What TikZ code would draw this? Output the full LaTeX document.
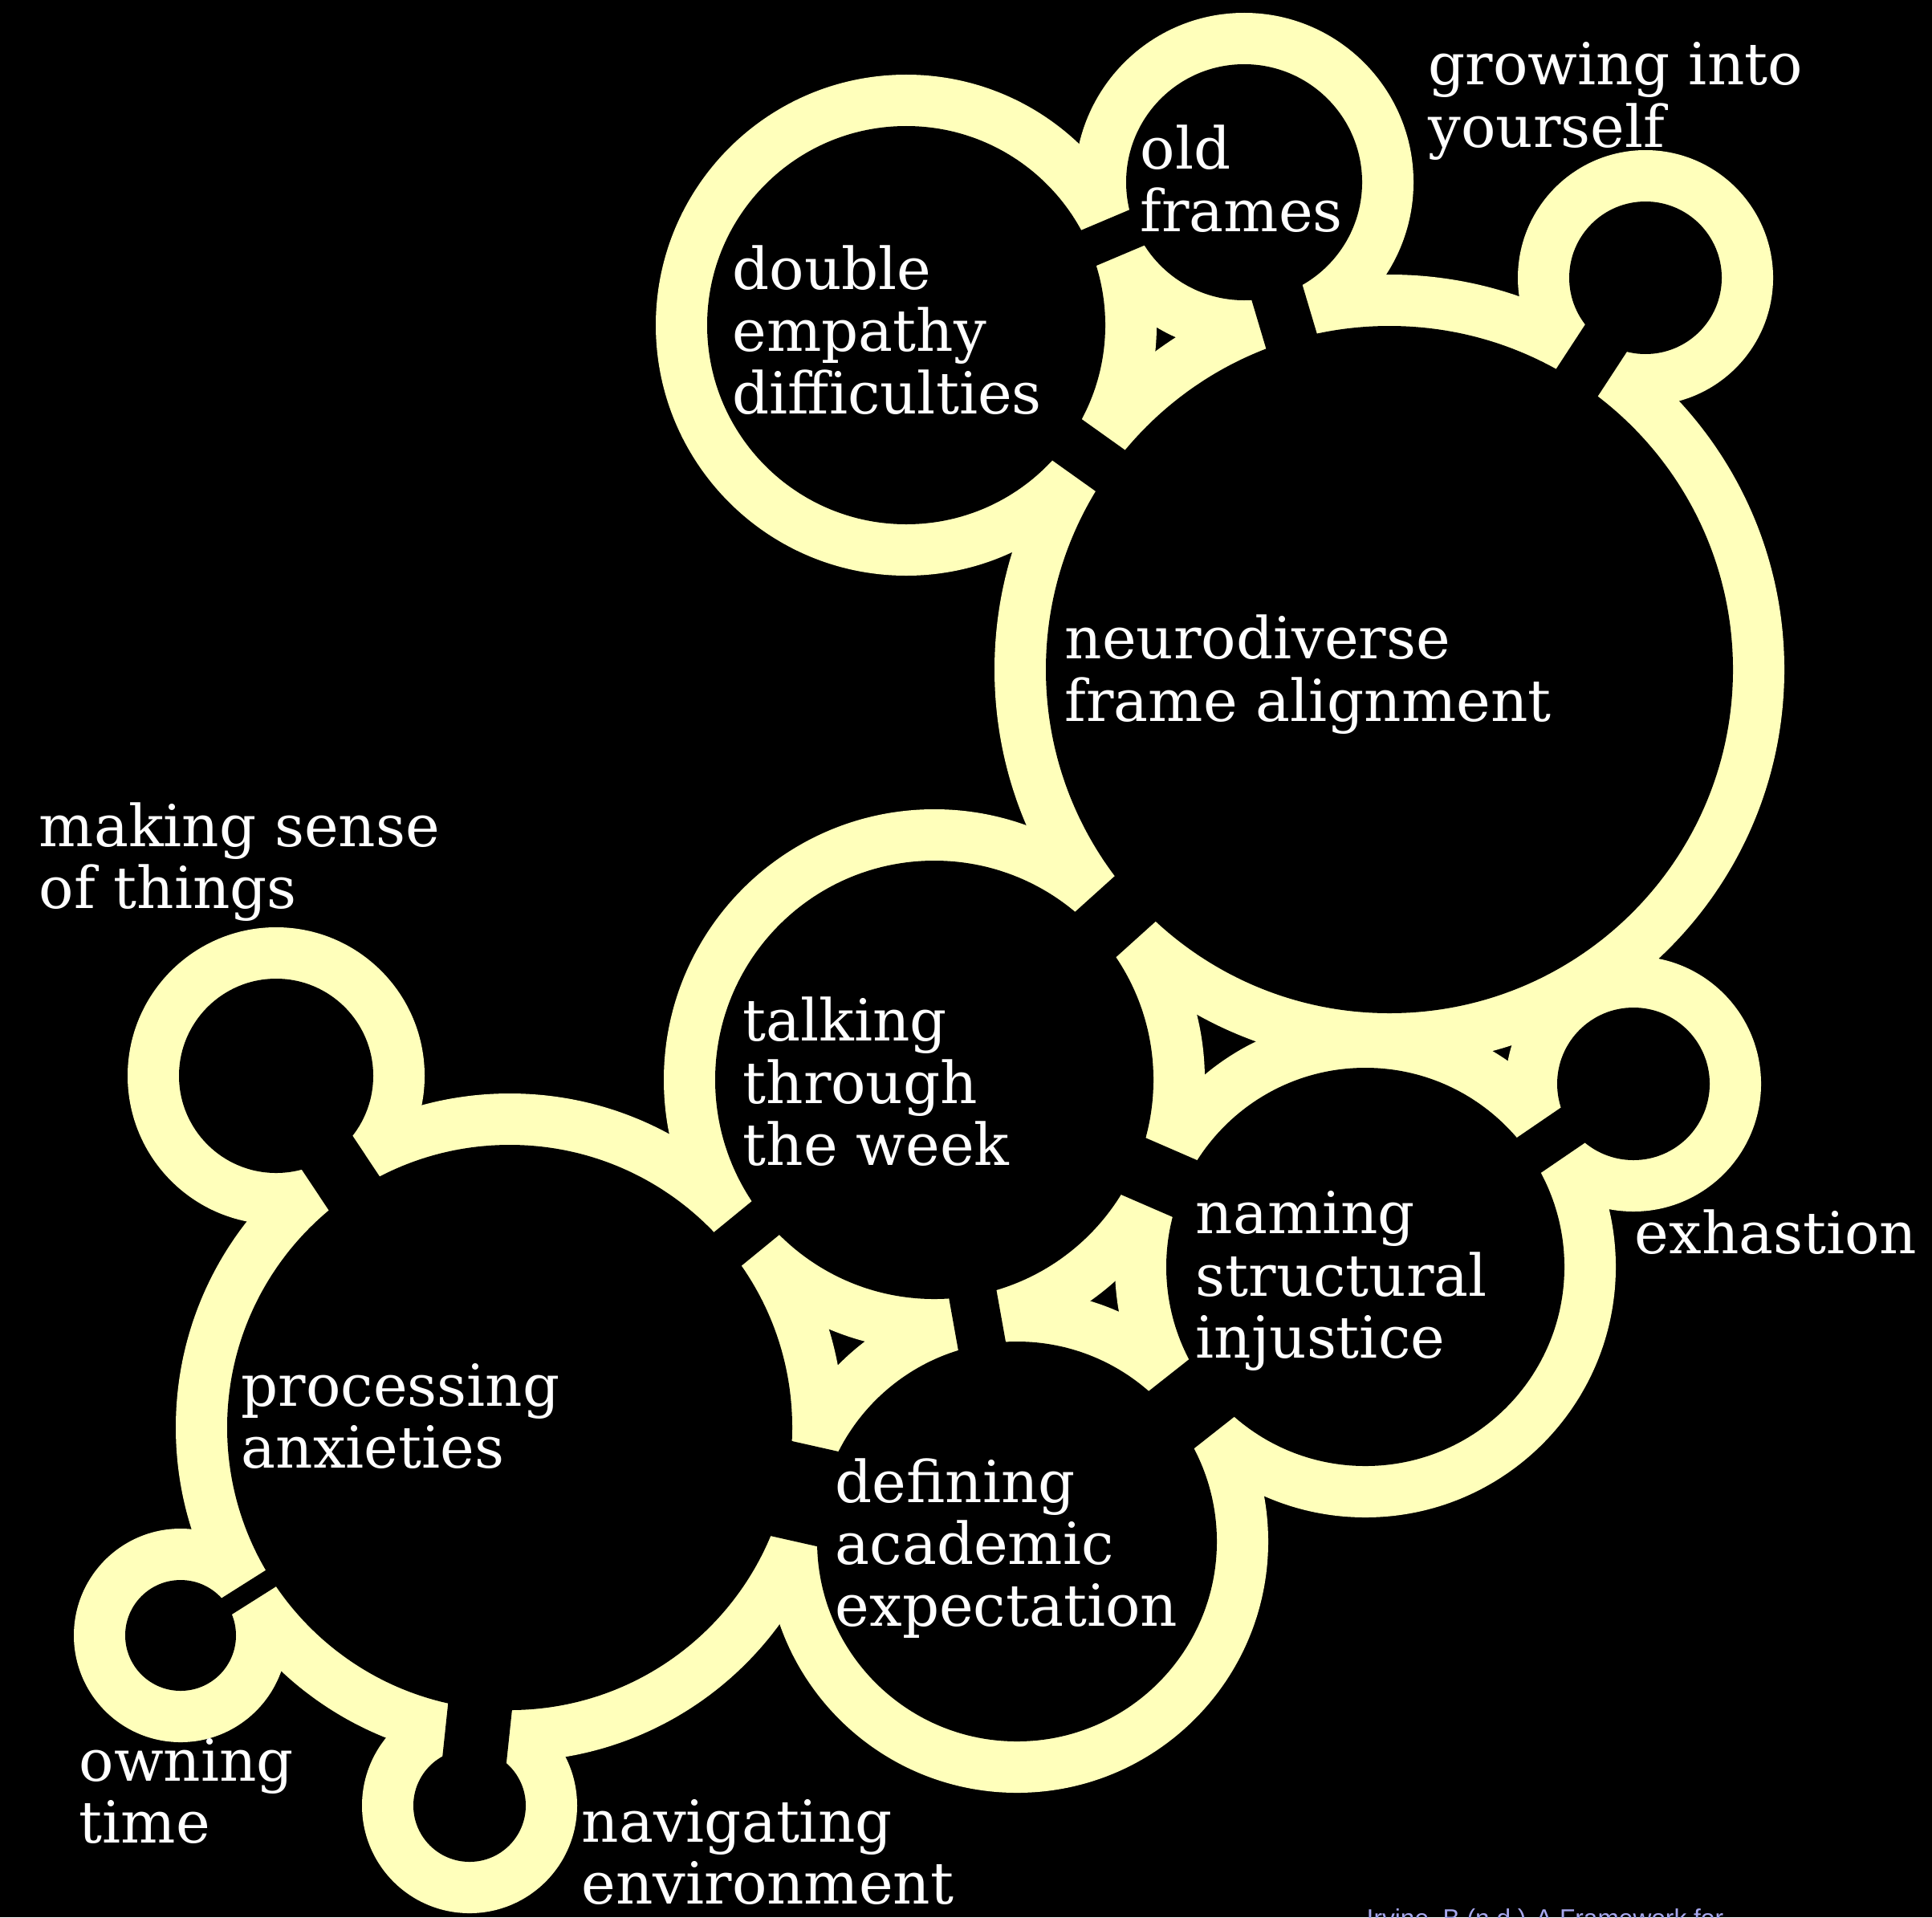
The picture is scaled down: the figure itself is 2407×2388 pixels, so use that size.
\documentclass[tikz,border=0pt]{standalone}
\usepackage{xcolor}
\usepackage{fontspec}
\setmainfont{DejaVu Serif}
\newfontfamily\citefont{Liberation Sans}
\usepackage{tikz}
\definecolor{rimyellow}{HTML}{FFFFBB}
\definecolor{citeblue}{RGB}{168,168,238}
\tikzstyle{rim} = [fill=rimyellow]
\tikzstyle{hole} = [fill=black]
\tikzstyle{link} = [draw=black]
\tikzstyle{tag} = [text=white,
    align=left,
    inner sep=0pt,
    anchor=base west,
    font=\fontsize{20.5}{21.9}\selectfont]

\begin{document}
\begin{tikzpicture}[x=0.01cm, y=-0.01cm]
        \useasboundingbox (0,0) rectangle (2407,2388);
        \clip (0,0) rectangle (2407,2388);
        \fill [black] (0,0) rectangle (2407,2388);

        % centres of the bubbles
        \coordinate (double_empathy) at (1129,405);
        \coordinate (old_frames) at (1550,227);
        \coordinate (growing) at (2050,346);
        \coordinate (neurodiverse) at (1731,834);
        \coordinate (talking) at (1164,1345);
        \coordinate (naming) at (1701,1578);
        \coordinate (exhastion) at (2035,1350);
        \coordinate (defining) at (1267,1920);
        \coordinate (processing) at (635,1778);
        \coordinate (making_sense) at (344,1340);
        \coordinate (owning_time) at (225,2037);
        \coordinate (navigating) at (585,2249);

        % yellow rims (inner radius + 64)
        \fill [rim] (double_empathy) circle (312);
        \fill [rim] (old_frames) circle (211);
        \fill [rim] (growing) circle (159);
        \fill [rim] (neurodiverse) circle (492);
        \fill [rim] (talking) circle (337);
        \fill [rim] (naming) circle (312);
        \fill [rim] (exhastion) circle (159);
        \fill [rim] (defining) circle (313);
        \fill [rim] (processing) circle (416);
        \fill [rim] (making_sense) circle (185);
        \fill [rim] (owning_time) circle (133);
        \fill [rim] (navigating) circle (134);

        % links cut through the rims
        \draw [link, line width=4.8mm] (double_empathy) -- (old_frames);
        \draw [link, line width=6.6mm] (old_frames) -- (neurodiverse);
        \draw [link, line width=6.3mm] (double_empathy) -- (neurodiverse);
        \draw [link, line width=6.2mm] (growing) -- (neurodiverse);
        \draw [link, line width=7.6mm] (neurodiverse) -- (talking);
        \draw [link, line width=7.7mm] (talking) -- (naming);
        \draw [link, line width=5.3mm] (naming) -- (exhastion);
        \draw [link, line width=9.1mm] (naming) -- (defining);
        \draw [link, line width=6.0mm] (talking) -- (defining);
        \draw [link, line width=5.4mm] (talking) -- (processing);
        \draw [link, line width=12.1mm] (processing) -- (defining);
        \draw [link, line width=7.6mm] (making_sense) -- (processing);
        \draw [link, line width=2.4mm] (owning_time) -- (processing);
        \draw [link, line width=8.0mm] (navigating) -- (processing);

        % black holes
        \fill [hole] (double_empathy) circle (248);
        \fill [hole] (old_frames) circle (147);
        \fill [hole] (growing) circle (95);
        \fill [hole] (neurodiverse) circle (428);
        \fill [hole] (talking) circle (273);
        \fill [hole] (naming) circle (248);
        \fill [hole] (exhastion) circle (95);
        \fill [hole] (defining) circle (249);
        \fill [hole] (processing) circle (352);
        \fill [hole] (making_sense) circle (121);
        \fill [hole] (owning_time) circle (69);
        \fill [hole] (navigating) circle (70);

        % labels (anchored at the baseline of their last line)
        \node (double_empathy_text) [tag] at (912,515) {double\\empathy\\difficulties};
        \node (old_frames_text) [tag] at (1420,288) {old\\frames};
        \node (growing_text) [tag] at (1779,183) {growing into\\yourself};
        \node (neurodiverse_text) [tag] at (1326,898) {neurodiverse\\frame alignment};
        \node (talking_text) [tag] at (925,1451) {talking\\through\\the week};
        \node (naming_text) [tag] at (1489,1691) {naming\\structural\\injustice};
        \node (exhastion_text) [tag] at (2036,1561) {exhastion};
        \node (defining_text) [tag] at (1040,2025) {defining\\academic\\expectation};
        \node (processing_text) [tag] at (300,1828) {processing\\anxieties};
        \node (making_sense_text) [tag] at (48,1131) {making sense\\of things};
        \node (owning_time_text) [tag] at (98,2295) {owning\\time};
        \node (navigating_text) [tag] at (724,2371) {navigating\\environment};

        \node (citation) [anchor=base west, inner sep=0pt, text=citeblue, font=\citefont\fontsize{9}{11}\selectfont]
            at (1702,2400) {Irvine, B (n.d.) A Framework for};
\end{tikzpicture}
\end{document}
